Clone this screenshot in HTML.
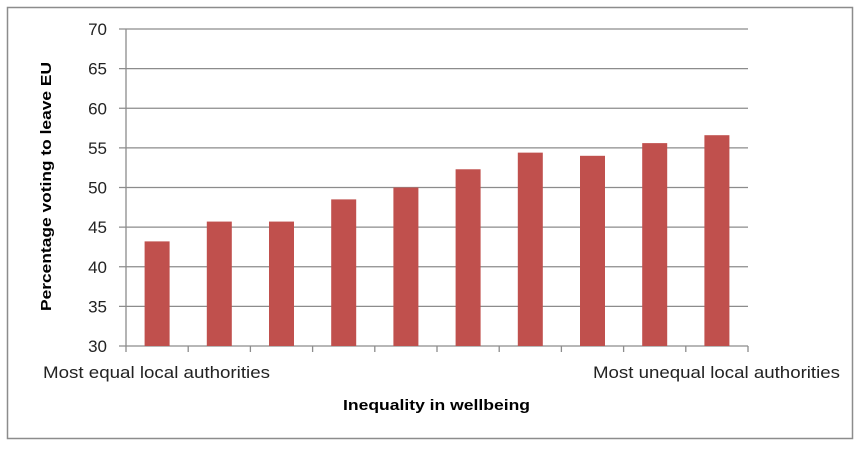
<!DOCTYPE html>
<html><head><meta charset="utf-8"><style>
body{margin:0;background:#fff;}
svg text{font-family:"Liberation Sans",sans-serif;}
</style></head><body>
<svg id="chart" width="863" height="449" xmlns="http://www.w3.org/2000/svg">
<rect x="7.5" y="7.5" width="845" height="431" fill="#fff" stroke="#8c8c8c" stroke-width="1.5"/>
<g id="grid"></g><g id="bars"></g><g id="axes"></g>
<text x="43" y="378" font-size="17" fill="#222" textLength="227" lengthAdjust="spacingAndGlyphs">Most equal local authorities</text>
<text x="593" y="378" font-size="17" fill="#222" textLength="247" lengthAdjust="spacingAndGlyphs">Most unequal local authorities</text>
<text x="343" y="410" font-size="15" font-weight="bold" fill="#000" textLength="187" lengthAdjust="spacingAndGlyphs">Inequality in wellbeing</text>
<text transform="translate(51,311) rotate(-90)" font-size="15" font-weight="bold" fill="#000" textLength="249" lengthAdjust="spacingAndGlyphs">Percentage voting to leave EU</text>
</svg>
<script>
const categories=["1","2","3","4","5","6","7","8","9","10"];
const values=[43.2,45.7,45.7,48.5,50.0,52.3,54.4,54.0,55.6,56.6];
const yTicks=[30,35,40,45,50,55,60,65,70];
const NS="http://www.w3.org/2000/svg";
const x0=126,x1=748,yTop=29,yBot=346,yMin=30,yMax=70;
const y=v=>yBot-(v-yMin)/(yMax-yMin)*(yBot-yTop);
const bw=(x1-x0)/categories.length;
const xc=i=>x0+bw*(i+0.5);
function mk(tag,attrs,parent){const e=document.createElementNS(NS,tag);for(const k in attrs)e.setAttribute(k,attrs[k]);document.getElementById(parent).appendChild(e);return e;}
yTicks.forEach(t=>{
  const l=mk("line",{x1:119,x2:x1,y1:y(t),y2:y(t),stroke:"#8c8c8c","stroke-width":1.3},"grid");
  
  
  const tx=mk("text",{x:107,y:y(t)+6,"font-size":17,"text-anchor":"end",fill:"#222"},"grid");
  tx.textContent=t;
  
  
});
values.forEach((v,i)=>{
  const r=mk("rect",{x:xc(i)-12.5,y:y(v),width:25,height:yBot-y(v),fill:"#c0504d"},"bars");
  
  
});
const ax=mk("line",{x1:x0,x2:x0,y1:yTop,y2:yBot,stroke:"#8c8c8c","stroke-width":1.3},"axes");


for(let i=0;i<=categories.length;i++){
  const t=mk("line",{x1:x0+bw*i,x2:x0+bw*i,y1:yBot,y2:yBot+6,stroke:"#8c8c8c","stroke-width":1.3},"axes");
  
  
}
</script>
</body></html>
